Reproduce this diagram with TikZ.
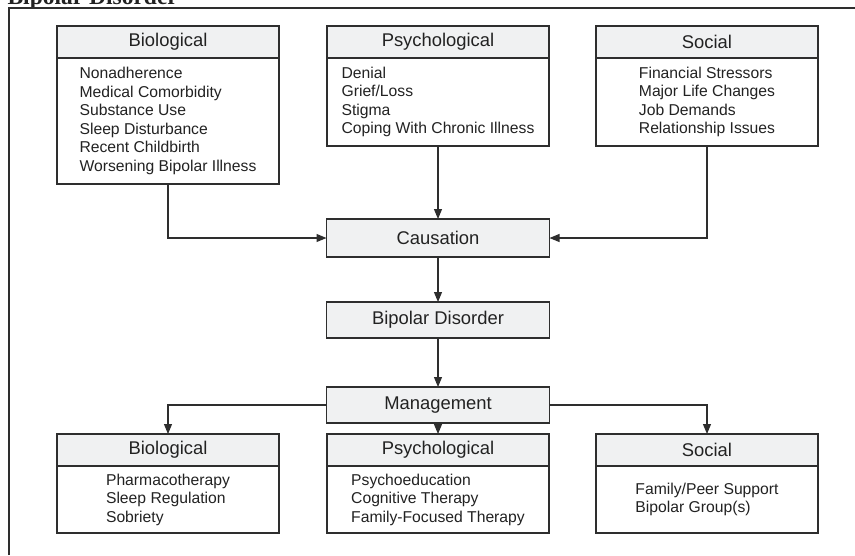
\documentclass[tikz,border=0pt]{standalone}
\usepackage{fontspec}
\setmainfont{Liberation Sans}
\newfontfamily\titlefont{Liberation Serif}
\usetikzlibrary{positioning, arrows.meta}
\definecolor{linegray}{HTML}{2E2E2E}
\definecolor{boxgray}{HTML}{F0F1F2}
\definecolor{textgray}{HTML}{222222}

\begin{document}
\begin{tikzpicture}[
          x=1pt, y=-1pt, line width=1.1pt,
          head/.style={rectangle, draw=linegray, fill=boxgray, outer sep=0pt, minimum width=222pt, minimum height=32pt, text=textgray, font=\fontsize{18.4}{22}\selectfont},
          body/.style={rectangle, draw=linegray, fill=white, outer sep=0pt, minimum width=222pt, align=left, text=textgray, font=\fontsize{15.7}{18.5}\selectfont},
          mid/.style={head, minimum width=223pt, minimum height=36pt},
          arrow/.style={-{Triangle[length=10pt, width=8pt]}, draw=linegray}
        ]
          \useasboundingbox (0,0) rectangle (855,555);

          % Title and frame
          \node[anchor=base west, inner sep=0pt, text=textgray, font=\titlefont\bfseries\fontsize{23.5}{28}\selectfont] (title) at (7,4) {Bipolar Disorder};
          \draw[linegray] (9,555) -- (9,8) -- (855,8);

          % Causes
          \node[head] (bioChead) at (168,42) {Biological};
          \node[body, minimum height=126pt, below=0pt of bioChead] (bioC) {Nonadherence\\Medical Comorbidity\\Substance Use\\Sleep Disturbance\\Recent Childbirth\\Worsening Bipolar Illness};
          \node[head] (psyChead) at (438,42) {Psychological};
          \node[body, minimum height=88pt, below=0pt of psyChead] (psyC) {Denial\\Grief/Loss\\Stigma\\Coping With Chronic Illness};
          \node[head] (socChead) at (707,42) {Social};
          \node[body, minimum height=88pt, below=0pt of socChead] (socC) {Financial Stressors\\Major Life Changes\\Job Demands\\Relationship Issues};

          % Middle chain
          \node[mid, minimum height=38pt] (cause) at (438,238) {Causation};
          \node[mid, below=45pt of cause] (bipolar) {Bipolar Disorder};
          \node[mid, below=49pt of bipolar] (manage) {Management};

          % Management
          \node[head] (bioMhead) at (168,450) {Biological};
          \node[body, minimum height=67pt, below=0pt of bioMhead] (bioM) {Pharmacotherapy\\Sleep Regulation\\Sobriety};
          \node[head] (psyMhead) at (438,450) {Psychological};
          \node[body, minimum height=67pt, below=0pt of psyMhead] (psyM) {Psychoeducation\\Cognitive Therapy\\Family-Focused Therapy};
          \node[head] (socMhead) at (707,450) {Social};
          \node[body, minimum height=67pt, below=0pt of socMhead] (socM) {Family/Peer Support\\Bipolar Group(s)};

          % Arrows
          \draw[arrow] (bioC.south) |- (cause.west);
          \draw[arrow] (psyC.south) -- (cause.north);
          \draw[arrow] (socC.south) |- (cause.east);
          \draw[arrow] (cause) -- (bipolar);
          \draw[arrow] (bipolar) -- (manage);
          \draw[arrow] (manage.west) -| (bioMhead.north);
          \draw[arrow] (manage) -- (psyMhead);
          \draw[arrow] (manage.east) -| (socMhead.north);
      \end{tikzpicture}
\end{document}
